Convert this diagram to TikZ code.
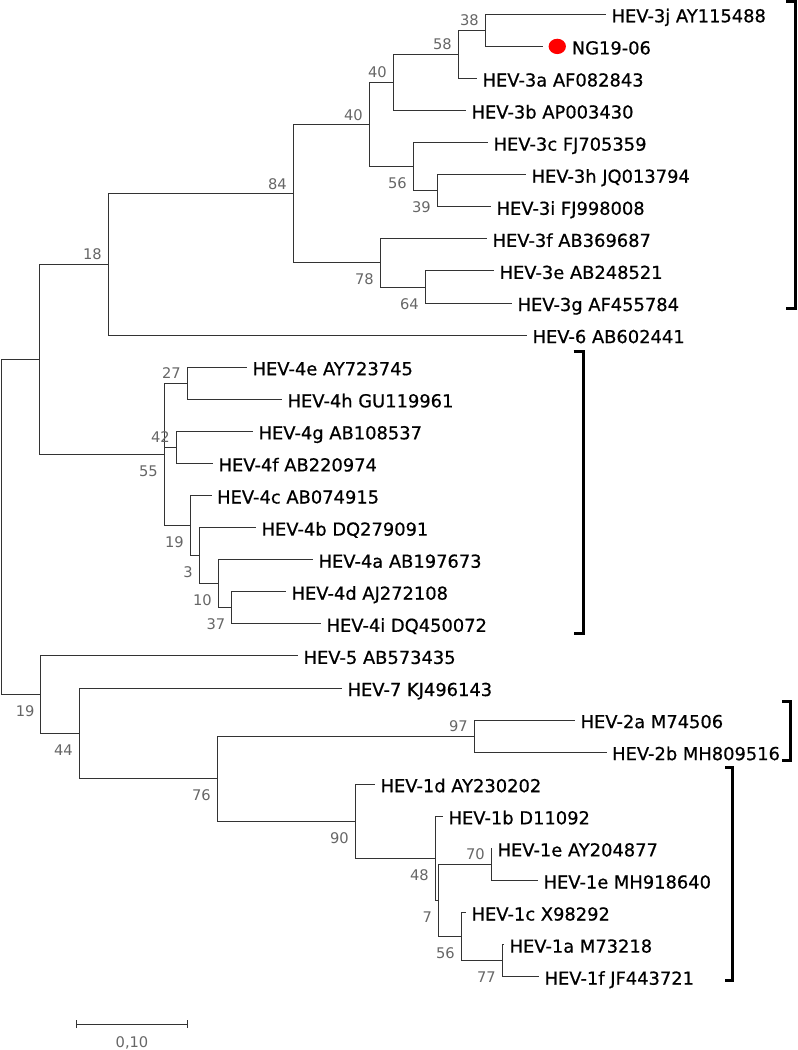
\documentclass[tikz,border=0pt]{standalone}
\usepackage{fontspec}
\setmainfont{DejaVu Sans}
\newfontfamily\leaffont[FakeBold=0.6]{DejaVu Sans}
\usetikzlibrary{positioning,shapes.geometric,arrows.meta}

\begin{document}
\begin{tikzpicture}
  [x=0.75pt,y=-0.75pt,
   branch/.style={draw=black!80,line width=0.75pt},
   leafN/.style={font=\leaffont\fontsize{13.4}{15}\selectfont,inner sep=0pt,yshift=-6pt},
   bootN/.style={font=\fontsize{11}{13}\selectfont,text=black!60,inner sep=0pt},
   bootA/.style={bootN,anchor=base east,xshift=-4.5pt,yshift=3.4pt},
   bootB/.style={bootN,anchor=base east,xshift=-4.5pt,yshift=-16.5pt},
   cladeB/.style={draw=black,line width=2.25pt},
   dotN/.style={ellipse,fill=red,inner sep=0pt,minimum width=13pt,minimum height=11.5pt},
   node distance=4pt]

  \useasboundingbox (0,0) rectangle (797,1050);

  % tips
  \coordinate (t3j) at (606,14.3);
  \coordinate (tNG) at (543,46.4);
  \coordinate (t3a) at (477,78.5);
  \coordinate (t3b) at (466,110.5);
  \coordinate (t3c) at (488,142.6);
  \coordinate (t3h) at (526,174.7);
  \coordinate (t3i) at (491,206.8);
  \coordinate (t3f) at (487,238.9);
  \coordinate (t3e) at (494,270.9);
  \coordinate (t3g) at (512,303.0);
  \coordinate (t6)  at (527,335.1);
  \coordinate (t4e) at (247,367.2);
  \coordinate (t4h) at (282,399.3);
  \coordinate (t4g) at (253,431.3);
  \coordinate (t4f) at (213,463.4);
  \coordinate (t4c) at (211.6,495.5);
  \coordinate (t4b) at (256,527.6);
  \coordinate (t4a) at (313,559.7);
  \coordinate (t4d) at (286,591.7);
  \coordinate (t4i) at (321,623.8);
  \coordinate (t5)  at (298,655.9);
  \coordinate (t7)  at (342,688.0);
  \coordinate (t2a) at (575,720.1);
  \coordinate (t2b) at (606.6,752.1);
  \coordinate (t1d) at (375,784.2);
  \coordinate (t1b) at (443,816.3);
  \coordinate (t1eA) at (492,848.4);
  \coordinate (t1eM) at (538,880.5);
  \coordinate (t1c) at (466,912.5);
  \coordinate (t1a) at (504,944.6);
  \coordinate (t1f) at (539,976.7);

  % internal nodes
  \coordinate (n38)  at (485,30.4);
  \coordinate (n58)  at (458,54.4);
  \coordinate (n40a) at (393,82.5);
  \coordinate (n39)  at (437,190.7);
  \coordinate (n56a) at (413,166.7);
  \coordinate (n40b) at (369,124.6);
  \coordinate (n64)  at (425,287.0);
  \coordinate (n78)  at (380,262.9);
  \coordinate (n84)  at (293,193.8);
  \coordinate (n18)  at (108,264.4);
  \coordinate (n27)  at (187,383.2);
  \coordinate (n42)  at (176,447.4);
  \coordinate (n37)  at (231.5,607.8);
  \coordinate (n10)  at (218,583.7);
  \coordinate (n3)   at (199,555.6);
  \coordinate (n19a) at (190,525.6);
  \coordinate (n55)  at (164,454.4);
  \coordinate (nA)   at (39,359.4);
  \coordinate (n97)  at (474,736.1);
  \coordinate (n77)  at (502,960.7);
  \coordinate (n56b) at (461,936.6);
  \coordinate (n70)  at (491,864.5);
  \coordinate (n7)   at (438.3,900.5);
  \coordinate (n48)  at (435,858.4);
  \coordinate (n90)  at (355,821.3);
  \coordinate (n76)  at (217,778.7);
  \coordinate (n44)  at (79,733.4);
  \coordinate (n19b) at (40.7,694.6);
  \coordinate (root) at (1.5,527);

  \draw[branch] (n38) |- (t3j) (n38) |- (tNG);
  \draw[branch] (n58) |- (n38) (n58) |- (t3a);
  \draw[branch] (n40a) |- (n58) (n40a) |- (t3b);
  \draw[branch] (n39) |- (t3h) (n39) |- (t3i);
  \draw[branch] (n56a) |- (t3c) (n56a) |- (n39);
  \draw[branch] (n40b) |- (n40a) (n40b) |- (n56a);
  \draw[branch] (n64) |- (t3e) (n64) |- (t3g);
  \draw[branch] (n78) |- (t3f) (n78) |- (n64);
  \draw[branch] (n84) |- (n40b) (n84) |- (n78);
  \draw[branch] (n18) |- (n84) (n18) |- (t6);
  \draw[branch] (n27) |- (t4e) (n27) |- (t4h);
  \draw[branch] (n42) |- (t4g) (n42) |- (t4f);
  \draw[branch] (n37) |- (t4d) (n37) |- (t4i);
  \draw[branch] (n10) |- (t4a) (n10) |- (n37);
  \draw[branch] (n3) |- (t4b) (n3) |- (n10);
  \draw[branch] (n19a) |- (t4c) (n19a) |- (n3);
  \draw[branch] (n55) |- (n27) (n55) |- (n42) (n55) |- (n19a);
  \draw[branch] (nA) |- (n18) (nA) |- (n55);
  \draw[branch] (n97) |- (t2a) (n97) |- (t2b);
  \draw[branch] (n77) |- (t1a) (n77) |- (t1f);
  \draw[branch] (n56b) |- (t1c) (n56b) |- (n77);
  \draw[branch] (n70) |- (t1eA) (n70) |- (t1eM);
  \draw[branch] (n7) |- (n70) (n7) |- (n56b);
  \draw[branch] (n48) |- (t1b) (n48) |- (n7);
  \draw[branch] (n90) |- (t1d) (n90) |- (n48);
  \draw[branch] (n76) |- (n97) (n76) |- (n90);
  \draw[branch] (n44) |- (t7) (n44) |- (n76);
  \draw[branch] (n19b) |- (t5) (n19b) |- (n44);
  \draw[branch] (root) |- (nA) (root) |- (n19b);

  \node[leafN, base right=of t3j] (l3j) {HEV-3j AY115488};
  \node[dotN, right=of tNG] (dot) {};
  \node[leafN, base right=of dot.east] (lNG) {NG19-06};
  \node[leafN, base right=of t3a] (l3a) {HEV-3a AF082843};
  \node[leafN, base right=of t3b] (l3b) {HEV-3b AP003430};
  \node[leafN, base right=of t3c] (l3c) {HEV-3c FJ705359};
  \node[leafN, base right=of t3h] (l3h) {HEV-3h JQ013794};
  \node[leafN, base right=of t3i] (l3i) {HEV-3i FJ998008};
  \node[leafN, base right=of t3f] (l3f) {HEV-3f AB369687};
  \node[leafN, base right=of t3e] (l3e) {HEV-3e AB248521};
  \node[leafN, base right=of t3g] (l3g) {HEV-3g AF455784};
  \node[leafN, base right=of t6]  (l6)  {HEV-6 AB602441};
  \node[leafN, base right=of t4e] (l4e) {HEV-4e AY723745};
  \node[leafN, base right=of t4h] (l4h) {HEV-4h GU119961};
  \node[leafN, base right=of t4g] (l4g) {HEV-4g AB108537};
  \node[leafN, base right=of t4f] (l4f) {HEV-4f AB220974};
  \node[leafN, base right=of t4c] (l4c) {HEV-4c AB074915};
  \node[leafN, base right=of t4b] (l4b) {HEV-4b DQ279091};
  \node[leafN, base right=of t4a] (l4a) {HEV-4a AB197673};
  \node[leafN, base right=of t4d] (l4d) {HEV-4d AJ272108};
  \node[leafN, base right=of t4i] (l4i) {HEV-4i DQ450072};
  \node[leafN, base right=of t5]  (l5)  {HEV-5 AB573435};
  \node[leafN, base right=of t7]  (l7)  {HEV-7 KJ496143};
  \node[leafN, base right=of t2a] (l2a) {HEV-2a M74506};
  \node[leafN, base right=of t2b] (l2b) {HEV-2b MH809516};
  \node[leafN, base right=of t1d] (l1d) {HEV-1d AY230202};
  \node[leafN, base right=of t1b] (l1b) {HEV-1b D11092};
  \node[leafN, base right=of t1eA] (l1eA) {HEV-1e AY204877};
  \node[leafN, base right=of t1eM] (l1eM) {HEV-1e MH918640};
  \node[leafN, base right=of t1c] (l1c) {HEV-1c X98292};
  \node[leafN, base right=of t1a] (l1a) {HEV-1a M73218};
  \node[leafN, base right=of t1f] (l1f) {HEV-1f JF443721};

  \node[bootA] (b38)  at (n38)  {38};
  \node[bootA] (b58)  at (n58)  {58};
  \node[bootA] (b40a) at (n40a) {40};
  \node[bootA] (b40b) at (n40b) {40};
  \node[bootB] (b56a) at (n56a) {56};
  \node[bootB] (b39)  at (n39)  {39};
  \node[bootA] (b84)  at (n84)  {84};
  \node[bootB] (b78)  at (n78)  {78};
  \node[bootB] (b64)  at (n64)  {64};
  \node[bootA] (b18)  at (n18)  {18};
  \node[bootA] (b27)  at (n27)  {27};
  \node[bootA] (b42)  at (n42)  {42};
  \node[bootB] (b55)  at (n55)  {55};
  \node[bootB] (b19a) at (n19a) {19};
  \node[bootB] (b3)   at (n3)   {3};
  \node[bootB] (b10)  at (n10)  {10};
  \node[bootB] (b37)  at (n37)  {37};
  \node[bootB] (b19b) at (n19b) {19};
  \node[bootB] (b44)  at (n44)  {44};
  \node[bootB] (b76)  at (n76)  {76};
  \node[bootA] (b97)  at (n97)  {97};
  \node[bootB] (b90)  at (n90)  {90};
  \node[bootB] (b48)  at (n48)  {48};
  \node[bootA] (b70)  at (n70)  {70};
  \node[bootB] (b7)   at (n7)   {7};
  \node[bootB] (b56b) at (n56b) {56};
  \node[bootB] (b77)  at (n77)  {77};

  % genotype brackets
  \draw[cladeB] (786,1.5) -- (795.5,1.5) -- (795.5,308) -- (786,308);
  \draw[cladeB] (573.5,351) -- (583.5,351) -- (583.5,633) -- (573.5,633);
  \draw[cladeB] (782,701) -- (790,701) -- (790,760) -- (782,760);
  \draw[cladeB] (725,767) -- (732.5,767) -- (732.5,980) -- (725,980);

  % scale
  \coordinate (sbL) at (76,1024);
  \coordinate (sbR) at (188,1024);
  \draw[branch,{Bar[width=6pt]}-{Bar[width=6pt]}] (sbL) -- (sbR);
  \node[bootN] (sbT) at (132,1043) {0,10};
\end{tikzpicture}
\end{document}
